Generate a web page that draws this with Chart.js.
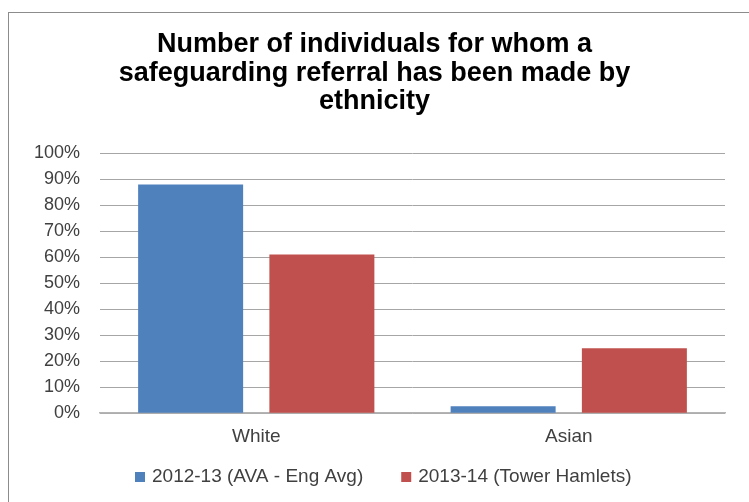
<!DOCTYPE html>
<html>
<head>
<meta charset="utf-8">
<script src="https://cdn.jsdelivr.net/npm/chart.js@4"></script>
<style>
  html, body { margin: 0; padding: 0; background: #fff; }
  #wrap { position: relative; width: 749px; height: 502px; overflow: hidden; }
  #frame { position: absolute; left: 8px; top: 12px; width: 800px; height: 600px; border: 1px solid #8c8c8c; }
  canvas { position: absolute; left: 0; top: 0; }
</style>
</head>
<body>
<div id="wrap">
  <div id="frame"></div>
  <canvas id="c" width="749" height="502"></canvas>
</div>
<script>
  // categories + series
  const categories = ['White', 'Asian'];
  const seriesNames = ['2012-13 (AVA - Eng Avg)', '2013-14 (Tower Hamlets)'];
  const avaEngAvg = [88, 2.7];
  const towerHamlets = [61, 25];
  const titleLines = ['Number of individuals for whom a', 'safeguarding referral has been made by', 'ethnicity'];

  const BLUE = '#4f81bd';
  const RED  = '#c0504d';
  const TXT  = '#404040';
  const GRID = '#a6a6a6';
  const FONT = '"Liberation Sans", Arial, sans-serif';

  // legend drawn by hand so the spacing matches the original (wide gap, low row)
  const bottomLegend = {
    id: 'bottomLegend',
    afterDraw(chart) {
      const ctx = chart.ctx;
      ctx.save();
      ctx.font = '19px ' + FONT;
      ctx.textBaseline = 'middle';
      ctx.textAlign = 'left';
      let x = chart.chartArea.left + 35;
      const y = 477;
      chart.data.datasets.forEach((ds) => {
        ctx.fillStyle = ds.backgroundColor;
        ctx.fillRect(x, y - 5, 10, 10);
        ctx.fillStyle = TXT;
        ctx.fillText(ds.label, x + 17, y);
        x += 17 + ctx.measureText(ds.label).width + 38;
      });
      ctx.restore();
    },
  };

  new Chart(document.getElementById('c'), {
    type: 'bar',
    data: {
      labels: categories,
      datasets: [
        { label: seriesNames[0], data: avaEngAvg, backgroundColor: BLUE, borderWidth: 0,
          categoryPercentage: 0.84, barPercentage: 0.8 },
        { label: seriesNames[1], data: towerHamlets, backgroundColor: RED, borderWidth: 0,
          categoryPercentage: 0.84, barPercentage: 0.8 },
      ],
    },
    plugins: [bottomLegend],
    options: {
      responsive: false,
      animation: false,
      layout: { padding: { left: 24, right: 24, top: 0, bottom: 50 } },
      plugins: {
        tooltip: { enabled: false },
        legend: { display: false },
        title: {
          display: true,
          text: titleLines,
          color: '#000',
          font: { family: FONT, size: 27, weight: 'bold', lineHeight: 1.04 },
          padding: { top: 31, bottom: 38 },
        },
      },
      scales: {
        x: {
          grid: { display: false },
          border: { color: '#b4b4b4', width: 1.5 },
          ticks: { color: TXT, font: { family: FONT, size: 19 }, padding: 4 },
        },
        y: {
          min: 0, max: 100,
          afterFit: (s) => { s.width = 76; },
          ticks: {
            stepSize: 10,
            color: TXT,
            padding: 20,
            font: { family: FONT, size: 18 },
            callback: (v) => v + '%',
          },
          grid: { color: GRID, drawTicks: false },
          border: { display: false },
        },
      },
    },
  });
</script>
</body>
</html>
